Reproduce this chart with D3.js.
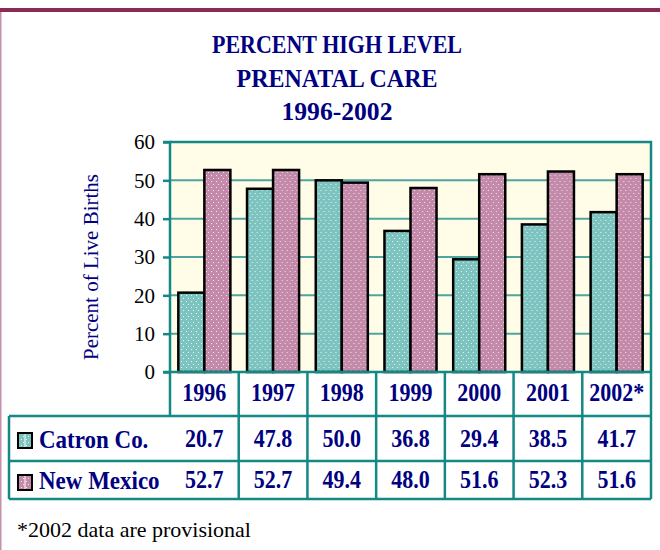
<!DOCTYPE html>
<html>
<head>
<meta charset="utf-8">
<script src="https://cdn.jsdelivr.net/npm/d3@7"></script>
<style>
  body { margin: 0; background: #fff; }
  svg { display: block; }
  .serif { font-family: "Liberation Serif", "Times New Roman", Times, serif; }
</style>
</head>
<body>
<div class="chart-container"></div>
<script>
// chart values
var years = ['1996', '1997', '1998', '1999', '2000', '2001', '2002*'];
var catron = [20.7, 47.8, 50.0, 36.8, 29.4, 38.5, 41.7];
var newMexico = [52.7, 52.7, 49.4, 48.0, 51.6, 52.3, 51.6];
var seriesNames = ['Catron Co.', 'New Mexico'];
var yTicks = [0, 10, 20, 30, 40, 50, 60];
var titleLines = ['PERCENT HIGH LEVEL', 'PRENATAL CARE', '1996-2002'];

var width = 660, height = 550;
var plot = { left: 170, right: 651, top: 142, bottom: 372 };
var teal = '#138884';
var navy = '#000080';
var stretch = 1.1; // table text is drawn a bit taller than wide

var svg = d3.select('.chart-container').append('svg')
  .attr('width', width)
  .attr('height', height);

// dotted fill patterns for the two series
var defs = svg.append('defs');
function addPattern(id, base, dot) {
  var p = defs.append('pattern')
    .attr('id', id)
    .attr('patternUnits', 'userSpaceOnUse')
    .attr('width', 5)
    .attr('height', 6);
  p.append('rect').attr('width', 5).attr('height', 6).attr('fill', base);
  p.append('rect').attr('x', 1).attr('y', 1).attr('width', 1).attr('height', 1).attr('fill', dot);
  p.append('rect').attr('x', 3).attr('y', 4).attr('width', 1).attr('height', 1).attr('fill', dot);
}
addPattern('pat-catron', '#7dc3bf', '#e8f6f4');
addPattern('pat-nm', '#c48aaa', '#f2e2ec');
var fills = ['url(#pat-catron)', 'url(#pat-nm)'];

// page frame
svg.append('rect').attr('x', 0).attr('y', 8).attr('width', width).attr('height', 4).attr('fill', '#8b2a55');
svg.append('rect').attr('x', 0).attr('y', 12).attr('width', 1.5).attr('height', height - 12).attr('fill', '#c68fae');

// title
var titleW = [250, 201, 111];
var titleY = [53, 87, 120];
svg.selectAll('.title')
  .data(titleLines)
  .enter()
  .append('text')
    .attr('class', 'title serif')
    .attr('x', 337)
    .attr('y', function (d, i) { return titleY[i]; })
    .attr('text-anchor', 'middle')
    .attr('textLength', function (d, i) { return titleW[i]; })
    .attr('lengthAdjust', 'spacingAndGlyphs')
    .attr('font-size', 26)
    .attr('font-weight', 'bold')
    .attr('fill', navy)
    .text(function (d) { return d; });

// scales
var x = d3.scaleBand()
  .domain(years)
  .range([plot.left, plot.right]);

var xInner = d3.scaleBand()
  .domain([0, 1])
  .range([0, x.bandwidth()])
  .paddingOuter(0.32);

var y = d3.scaleLinear()
  .domain([0, 60])
  .range([plot.bottom, plot.top]);

// plot background
svg.append('rect')
  .attr('x', plot.left)
  .attr('y', plot.top)
  .attr('width', plot.right - plot.left)
  .attr('height', plot.bottom - plot.top)
  .attr('fill', '#fffde8');

// gridlines
svg.selectAll('.grid')
  .data(yTicks.filter(function (t) { return t > 0 && t < 60; }))
  .enter()
  .append('line')
    .attr('class', 'grid')
    .attr('x1', plot.left)
    .attr('x2', plot.right)
    .attr('y1', function (d) { return y(d); })
    .attr('y2', function (d) { return y(d); })
    .attr('stroke', '#4ea5a0')
    .attr('stroke-width', 2);

// bars
var rows = years.map(function (yr, i) {
  return { year: yr, values: [catron[i], newMexico[i]] };
});

var groups = svg.selectAll('.yr')
  .data(rows)
  .enter()
  .append('g')
    .attr('class', 'yr')
    .attr('transform', function (d) { return 'translate(' + x(d.year) + ',0)'; });

groups.selectAll('rect')
  .data(function (d) { return d.values; })
  .enter()
  .append('rect')
    .attr('x', function (d, i) { return xInner(i); })
    .attr('width', xInner.bandwidth())
    .attr('y', function (d) { return y(d); })
    .attr('height', function (d) { return y(0) - y(d); })
    .attr('fill', function (d, i) { return fills[i]; })
    .attr('stroke', '#000')
    .attr('stroke-width', 2.5);

// plot border (top/right)
svg.append('path')
  .attr('d', 'M' + plot.left + ',' + plot.top + 'H' + plot.right + 'V' + plot.bottom)
  .attr('fill', 'none')
  .attr('stroke', teal)
  .attr('stroke-width', 2.5);

// y axis
var yAxis = svg.append('g')
  .attr('transform', 'translate(' + plot.left + ',0)')
  .call(d3.axisLeft(y).tickValues(yTicks).tickSize(7).tickPadding(8));
yAxis.select('.domain').attr('stroke', teal).attr('stroke-width', 2.5)
  .attr('d', 'M-7,' + plot.top + 'H0V' + (plot.bottom + 44));
yAxis.selectAll('.tick line').attr('stroke', teal).attr('stroke-width', 2.5);
yAxis.selectAll('.tick text')
  .attr('class', 'serif')
  .attr('font-size', 21)
  .attr('fill', '#000');

// x baseline
svg.append('line')
  .attr('x1', plot.left - 7)
  .attr('x2', plot.right)
  .attr('y1', plot.bottom)
  .attr('y2', plot.bottom)
  .attr('stroke', teal)
  .attr('stroke-width', 2.5);

// y title
svg.append('text')
  .attr('class', 'serif')
  .attr('transform', 'translate(98,267) rotate(-90)')
  .attr('text-anchor', 'middle')
  .attr('font-size', 21)
  .attr('fill', navy)
  .text('Percent of Live Births');

// data table
var tableLeft = 9;
var rowY = [plot.bottom, 416, 461, 499];
var tbl = svg.append('g');

// horizontal lines
[1, 2, 3].forEach(function (r) {
  tbl.append('line').attr('x1', tableLeft).attr('x2', plot.right).attr('y1', rowY[r]).attr('y2', rowY[r]);
});
// vertical lines
tbl.append('line').attr('x1', tableLeft).attr('x2', tableLeft).attr('y1', rowY[1]).attr('y2', rowY[3]);
tbl.selectAll('.col')
  .data(years)
  .enter()
  .append('line')
    .attr('class', 'col')
    .attr('x1', function (d) { return x(d) + x.bandwidth(); })
    .attr('x2', function (d) { return x(d) + x.bandwidth(); })
    .attr('y1', rowY[0])
    .attr('y2', rowY[3]);
tbl.selectAll('line').attr('stroke', teal).attr('stroke-width', 2.5);

function cellText(sel, px, py) {
  return sel.append('text')
    .attr('class', 'serif')
    .attr('transform', 'translate(' + px + ',' + py + ') scale(1,' + stretch + ')')
    .attr('font-size', 22)
    .attr('font-weight', 'bold')
    .attr('fill', navy);
}

// header years
years.forEach(function (yr) {
  cellText(tbl, x(yr) + x.bandwidth() / 2, 401)
    .attr('text-anchor', 'middle')
    .text(yr);
});

// values
var valueBase = [447, 488];
[catron, newMexico].forEach(function (vals, r) {
  vals.forEach(function (v, i) {
    cellText(tbl, x(years[i]) + x.bandwidth() / 2, valueBase[r])
      .attr('text-anchor', 'middle')
      .text(d3.format('.1f')(v));
  });
});

// row labels with swatches
var swatchY = [433, 475];
seriesNames.forEach(function (name, r) {
  tbl.append('rect')
    .attr('x', 18)
    .attr('y', swatchY[r])
    .attr('width', 14)
    .attr('height', 15)
    .attr('fill', fills[r])
    .attr('stroke', '#000')
    .attr('stroke-width', 2);
  tbl.append('line')
    .attr('x1', 25).attr('x2', 25)
    .attr('y1', swatchY[r] + 1).attr('y2', swatchY[r] + 14)
    .attr('stroke', '#fff')
    .attr('stroke-width', 1);
  cellText(tbl, 39, valueBase[r] + 1)
    .attr('font-size', 23)
    .text(name);
});

// footnote
svg.append('text')
  .attr('class', 'serif')
  .attr('x', 17)
  .attr('y', 537)
  .attr('font-size', 22)
  .attr('fill', '#000')
  .text('*2002 data are provisional');
</script>
</body>
</html>
